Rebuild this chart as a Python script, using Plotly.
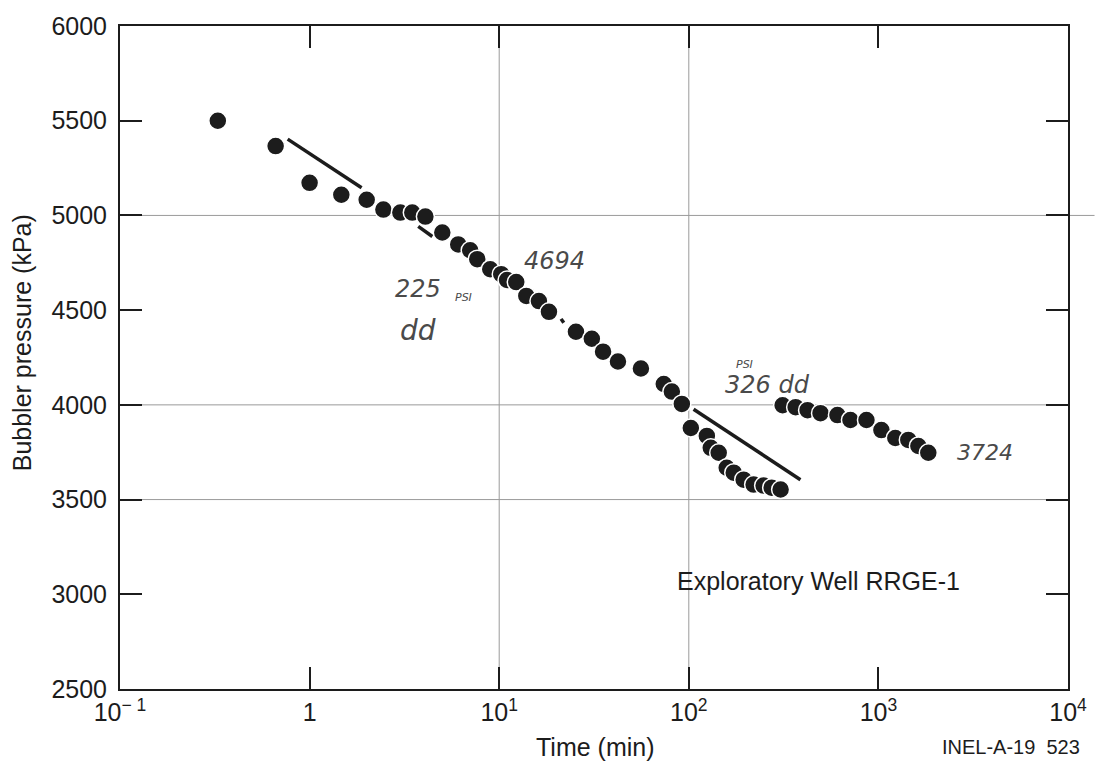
import plotly.graph_objects as go

# ---- data ----
time_min = [0.328, 0.662, 1.0, 1.47, 2.0, 2.45, 3.01, 3.48, 4.08, 5.01,
            6.08, 7.03, 7.66, 8.97, 10.25, 11.0, 12.3, 13.9, 16.2, 18.3,
            25.4, 30.8, 35.3, 42.3, 55.9, 73.8, 81.4, 91.9, 102.5, 124.5,
            130.6, 143.8, 158.5, 172.6, 194.7, 219.7, 248, 273.5, 304.9, 312.5,
            366, 423, 495, 608, 712, 865, 1037, 1228, 1438, 1625, 1833]
pressure_kpa = [5500, 5366, 5172, 5109, 5083, 5031, 5015, 5015, 4994, 4910,
                4847, 4816, 4769, 4716, 4690, 4659, 4648, 4575, 4548, 4491,
                4386, 4349, 4281, 4229, 4192, 4110, 4070, 4005, 3878, 3836,
                3773, 3747, 3668, 3642, 3605, 3579, 3574, 3563, 3553, 3998,
                3988, 3972, 3956, 3946, 3920, 3920, 3867, 3825, 3815, 3783, 3747]

fit1_t = [0.766, 1.88]
fit1_p = [5403, 5146]
dash1_t = [3.74, 4.44]
dash1_p = [4942, 4889]
dash2_t = [21.2, 21.9]
dash2_p = [4454, 4433]
fit2_t = [106, 388]
fit2_p = [3977, 3605]

x_tickvals = [0.1, 1, 10, 100, 1000, 10000]
x_ticktext = ["10<sup>\u2212 1</sup>", "1", "10<sup>1</sup>", "10<sup>2</sup>",
              "10<sup>3</sup>", "10<sup>4</sup>"]
y_tickvals = [2500, 3000, 3500, 4000, 4500, 5000, 5500, 6000]
x_grid = [10, 100]
y_grid = [3500, 4000, 5000]

FONT = "Liberation Sans, Arial, Helvetica, sans-serif"
HAND = "DejaVu Sans, sans-serif"
INK = "#1c1c1c"
PEN = "#4a4a4a"

fig = go.Figure()
for tt, pp in [(fit1_t, fit1_p), (dash1_t, dash1_p), (dash2_t, dash2_p), (fit2_t, fit2_p)]:
    fig.add_trace(go.Scatter(x=tt, y=pp, mode="lines",
                             line=dict(color=INK, width=3.5), showlegend=False,
                             hoverinfo="skip"))

fig.add_trace(go.Scatter(x=time_min, y=pressure_kpa, mode="markers",
                         marker=dict(size=18, color=INK,
                                     line=dict(color="white", width=1.5)),
                         showlegend=False))

shapes = []
for xv in x_grid:
    shapes.append(dict(type="line", xref="x", yref="paper", x0=xv, x1=xv, y0=0, y1=1,
                       line=dict(color="#9a9a9a", width=1), layer="below"))
for yv in y_grid:
    shapes.append(dict(type="line", xref="paper", yref="y", x0=0,
                       x1=1.028 if yv == 5000 else 1, y0=yv, y1=yv,
                       line=dict(color="#9a9a9a", width=1), layer="below"))


def note(text, x, y, size, family=FONT, color=INK, italic=False, angle=0):
    f = dict(family=family, size=size, color=color)
    if italic:
        f["style"] = "italic"
    return dict(text=text, x=x, y=y, xref="paper", yref="paper", showarrow=False,
                xanchor="center", yanchor="middle", textangle=angle, font=f)


annotations = [
    note("Time (min)", 0.502, -0.088, 25),
    note("Bubbler pressure (kPa)", -0.103, 0.522, 25, angle=-90),
    note("INEL-A-19  523", 0.940, -0.088, 20),
    note("Exploratory Well RRGE-1", 0.737, 0.163, 25),
    # handwritten notes
    note("4694", 0.458, 0.645, 24, HAND, PEN, True),
    note("225", 0.314, 0.604, 24, HAND, PEN, True),
    note("PSI", 0.362, 0.590, 11, HAND, PEN, True),
    note("dd", 0.314, 0.540, 28, HAND, PEN, True),
    note("PSI", 0.659, 0.490, 11, HAND, PEN, True),
    note("326 dd", 0.683, 0.459, 24, HAND, PEN, True),
    note("3724", 0.912, 0.356, 22, HAND, PEN, True),
]

fig.update_layout(
    width=1099, height=771,
    margin=dict(l=120, r=23, t=15, b=82),
    paper_bgcolor="white", plot_bgcolor="white",
    shapes=shapes, annotations=annotations,
    font=dict(family=FONT, color=INK),
    xaxis=dict(type="log", range=[-1, 4], tickvals=x_tickvals, ticktext=x_ticktext,
               showgrid=False, zeroline=False, showline=True, linecolor=INK,
               linewidth=2, mirror="ticks", ticks="inside", ticklen=22,
               tickwidth=2, tickcolor=INK, tickfont=dict(size=25, color=INK)),
    yaxis=dict(range=[2500, 6000], tickvals=y_tickvals, showgrid=False,
               zeroline=False, showline=True, linecolor=INK, linewidth=2,
               mirror="ticks", ticks="inside", ticklen=22, tickwidth=2,
               tickcolor=INK, tickfont=dict(size=25, color=INK),
               ticklabelstandoff=6),
)

fig.write_html("out.html")
